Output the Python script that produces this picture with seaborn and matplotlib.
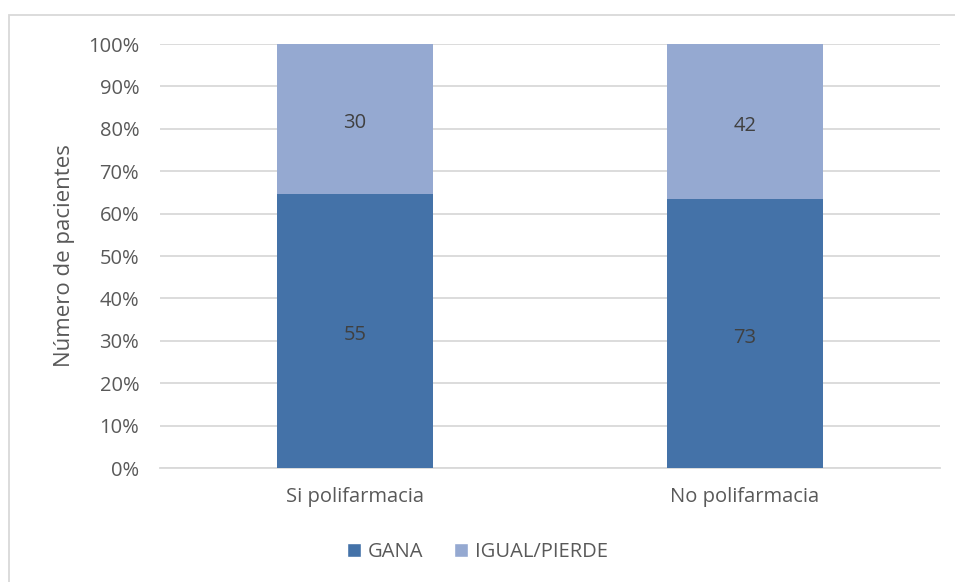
import matplotlib
matplotlib.use("Agg")
import matplotlib.pyplot as plt
from matplotlib.patches import Rectangle, Patch
import seaborn as sns
import pandas as pd

categories = ["Si polifarmacia", "No polifarmacia"]
gana = [55, 73]
igual_pierde = [30, 42]
y_ticks = [0, 10, 20, 30, 40, 50, 60, 70, 80, 90, 100]

totals = [g + p for g, p in zip(gana, igual_pierde)]
gana_pct = [100 * g / t for g, t in zip(gana, totals)]
df = pd.DataFrame({"cat": categories, "gana_pct": gana_pct, "total_pct": [100.0] * len(categories)})

c_gana = "#4472A8"
c_igual = "#95A9D1"
text_c = "#595959"

sns.set_theme(style="white")
plt.rcParams["font.family"] = ["Open Sans", "DejaVu Sans"]

fig = plt.figure(figsize=(9.55, 5.82), dpi=100)
ax = fig.add_axes([160 / 955, 1 - 468 / 582, 780 / 955, 424 / 582])

sns.barplot(data=df, x="cat", y="total_pct", color=c_igual, width=0.4, saturation=1,
            linewidth=0, edgecolor="none", ax=ax, zorder=2)
sns.barplot(data=df, x="cat", y="gana_pct", color=c_gana, width=0.4, saturation=1,
            linewidth=0, edgecolor="none", ax=ax, zorder=3)

# segment labels show the patient counts
for i, (g, p, gp) in enumerate(zip(gana, igual_pierde, gana_pct)):
    ax.text(i, gp / 2 - 1, str(g), ha="center", va="center", fontsize=14.5, color="#404040", zorder=4)
    ax.text(i, gp + (100 - gp) / 2 - 1, str(p), ha="center", va="center", fontsize=14.5, color="#404040", zorder=4)

ax.set_xlim(-0.5, 1.5)
ax.set_ylim(0, 100)
ax.set_yticks(y_ticks)
ax.set_yticklabels([f"{t}%" for t in y_ticks])
ax.yaxis.grid(True, color="#D9D9D9", linewidth=1.3, zorder=0)
ax.set_axisbelow(True)
for s in ["top", "right", "left"]:
    ax.spines[s].set_visible(False)
ax.spines["bottom"].set_color("#D9D9D9")
ax.spines["bottom"].set_linewidth(1.3)
ax.tick_params(axis="both", length=0, labelsize=14.5, labelcolor=text_c)
ax.tick_params(axis="y", pad=15)
ax.tick_params(axis="x", pad=14)
ax.set_xlabel("")
ax.set_ylabel("Número de pacientes", fontsize=16, color=text_c, labelpad=9)

handles = [Patch(facecolor=c_gana, label="GANA"), Patch(facecolor=c_igual, label="IGUAL/PIERDE")]
fig.legend(handles=handles, loc="center", bbox_to_anchor=(0.5, 1 - 552 / 582), ncol=2, frameon=False,
           fontsize=14.5, labelcolor=text_c, handlelength=0.7, handleheight=0.7, handletextpad=0.35,
           columnspacing=1.5)

# outer chart frame
fig.patches.append(Rectangle((9 / 955, -0.01), 1.05, 1 - 15 / 582 + 0.01, transform=fig.transFigure,
                             fill=False, edgecolor="#D9D9D9", linewidth=1.3, zorder=0))

fig.savefig("out.png", dpi=100)
